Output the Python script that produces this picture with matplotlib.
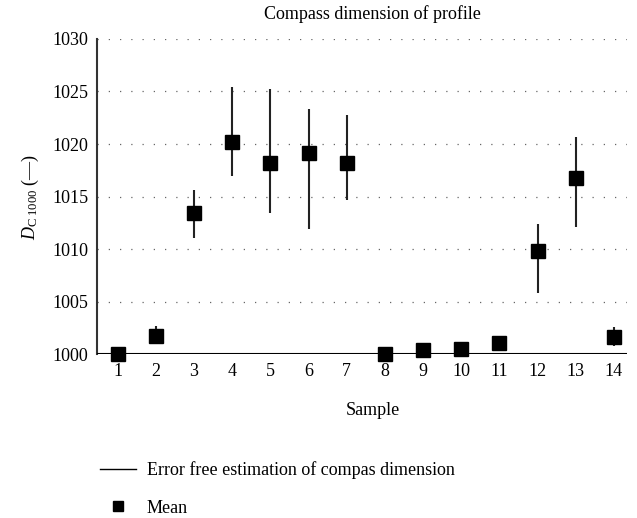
import matplotlib.pyplot as plt
from matplotlib.lines import Line2D
import numpy as np

plt.rcParams["font.family"] = ["Liberation Serif", "DejaVu Serif"]
plt.rcParams["mathtext.fontset"] = "custom"
plt.rcParams["mathtext.rm"] = "Liberation Serif"
plt.rcParams["mathtext.it"] = "Liberation Serif:italic"

samples = np.arange(1, 15)
means = [1000.0, 1001.7, 1013.4, 1020.2, 1018.2, 1019.1, 1018.2,
         1000.0, 1000.4, 1000.5, 1001.1, 1009.8, 1016.8, 1001.6]
err_low = [1000.0, 1001.0, 1011.1, 1017.0, 1013.4, 1011.9, 1014.7,
           1000.0, 1000.2, 1000.3, 1000.8, 1005.8, 1012.1, 1000.8]
err_high = [1000.0, 1002.7, 1015.6, 1025.4, 1025.2, 1023.3, 1022.8,
            1000.0, 1000.6, 1000.7, 1001.4, 1012.4, 1020.7, 1002.6]
error_free = 1000

fig = plt.figure(figsize=(6.37, 5.18), dpi=100)
ax = fig.add_axes([0.152, 0.316, 0.832, 0.609])

ax.vlines(samples, err_low, err_high, color="#222222", linewidth=1.5, zorder=2)
ax.axhline(error_free, color="black", linewidth=1.5, zorder=3)
ax.plot(samples, means, linestyle="none", marker="s", markersize=9.5,
        color="black", clip_on=False, zorder=4)

ax.set_xlim(0.45, 14.34)
ax.set_ylim(1000, 1030)
ax.set_xticks(samples)
ax.set_yticks(np.arange(1000, 1031, 5))
ax.tick_params(length=0, labelsize=13, pad=6)
ax.yaxis.grid(True, color="#666666", linestyle=(0, (1, 8)), linewidth=0.9)
ax.set_axisbelow(True)
for s in ["top", "right", "bottom"]:
    ax.spines[s].set_visible(False)
ax.spines["left"].set_color("#333333")
ax.spines["left"].set_linewidth(1.5)

ax.set_title("Compass dimension of profile", fontsize=13, pad=14, x=0.52)
ax.set_xlabel("Sample", fontsize=13, labelpad=16, x=0.52)
ax.set_ylabel(r"$D_{\mathrm{C\ 1000}}$ (—)", fontsize=13, labelpad=8)

handles = [Line2D([], [], color="black", linewidth=1),
           Line2D([], [], color="black", linestyle="none", marker="s", markersize=6.5)]
fig.legend(handles, ["Error free estimation of compas dimension", "Mean"],
           loc="upper left", bbox_to_anchor=(0.145, 0.124), frameon=False,
           fontsize=13, handlelength=2.0, handletextpad=0.6,
           labelspacing=1.15, borderaxespad=0)

fig.savefig("out.png", dpi=100)
